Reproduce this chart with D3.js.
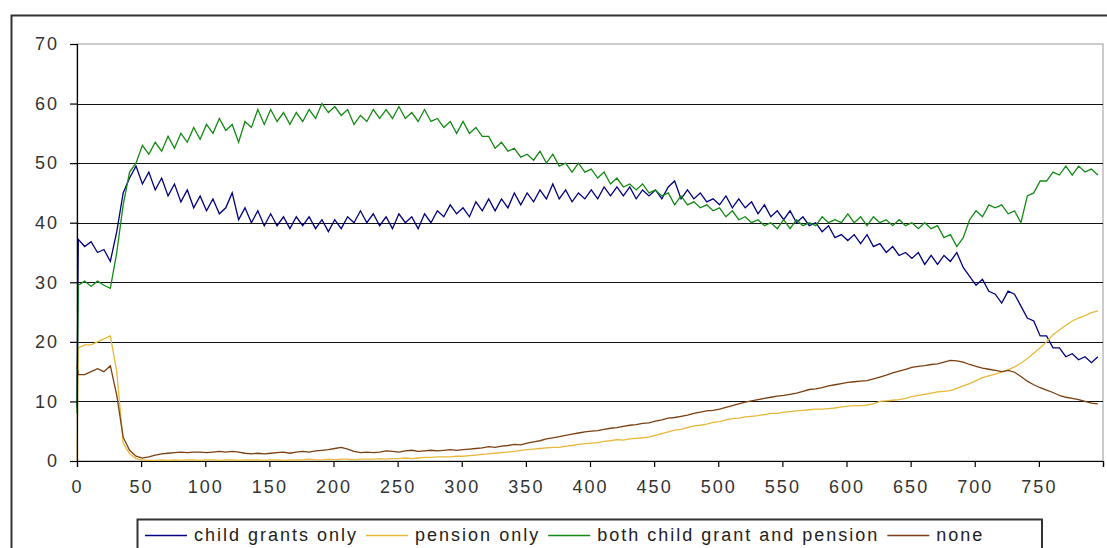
<!DOCTYPE html>
<html>
<head>
<meta charset="utf-8">
<script src="https://cdn.jsdelivr.net/npm/d3@7"></script>
<style>
  body { margin: 0; background: #fff; }
  svg { display: block; font-family: "Liberation Sans", Arial, sans-serif; }
</style>
</head>
<body>
<svg id="chart" width="1107" height="548"></svg>
<script>
// x positions: first point at 0, then every 5th category
const xs = [0, ...d3.range(1, 800, 5)];

const childGrantsOnly = [9,
  37.2, 36, 36.8, 35, 35.5, 33.5, 38.5, 45, 47.5, 49.5,
  46.5, 48.5, 45.5, 47.5, 44.5, 46.5, 43.5, 45.5, 42.5, 44.5,
  42, 44, 41.5, 42.5, 45, 40.5, 42.5, 40, 42, 39.5,
  41.5, 39.5, 41, 39, 41, 39.5, 41, 39, 40.5, 38.5,
  40.5, 39, 41, 40, 42, 40, 41.5, 39.5, 41, 39,
  41.5, 40, 41, 39, 41.5, 40, 42, 41, 43, 41.5,
  42.5, 41, 43.5, 42, 44, 42, 44, 42.5, 45, 43,
  45, 43.5, 45.5, 44, 46.5, 44, 45.5, 43.5, 45, 44,
  45.5, 44, 46, 44.5, 46, 44.5, 46, 44, 45.5, 44.5,
  45.5, 44, 46, 47, 44, 45.5, 44, 45, 43.5, 44,
  43, 44.5, 42.5, 44, 42.5, 43.5, 41.5, 43, 41, 42,
  40.5, 42, 40, 41, 39.5, 40, 38.5, 39.5, 37.5, 38,
  37, 38, 36.5, 38, 36, 36.5, 35, 36, 34.5, 35,
  34, 35, 33, 34.5, 33, 34.5, 33.5, 35, 32.5, 31,
  29.5, 30.5, 28.5, 28, 26.5, 28.5, 28, 26, 24, 23.5,
  21, 21, 19, 19, 17.5, 18, 17, 17.5, 16.5, 17.5];

const pensionOnly = [0,
  19, 19.5, 19.5, 20, 20.5, 21, 15, 3, 1.2, 0.4,
  0.2, 0.1, 0.1, 0.2, 0.1, 0.2, 0.1, 0.2, 0.2, 0.1,
  0.2, 0.2, 0.1, 0.2, 0.2, 0.1, 0.2, 0.2, 0.2, 0.1,
  0.2, 0.2, 0.1, 0.2, 0.2, 0.2, 0.3, 0.2, 0.2, 0.3,
  0.2, 0.3, 0.3, 0.2, 0.3, 0.3, 0.3, 0.4, 0.3, 0.4,
  0.4, 0.5, 0.4, 0.5, 0.6, 0.6, 0.7, 0.7, 0.7, 0.8,
  0.8, 0.9, 1.0, 1.1, 1.2, 1.3, 1.4, 1.5, 1.6, 1.8,
  1.9, 2.0, 2.1, 2.2, 2.3, 2.3, 2.5, 2.6, 2.8, 2.9,
  3.0, 3.1, 3.3, 3.4, 3.6, 3.5, 3.7, 3.8, 3.9, 4.0,
  4.3, 4.6, 4.9, 5.2, 5.3, 5.6, 5.9, 6.0, 6.2, 6.5,
  6.6, 6.9, 7.1, 7.2, 7.4, 7.5, 7.6, 7.8, 8.0, 8.0,
  8.2, 8.3, 8.4, 8.5, 8.6, 8.7, 8.7, 8.8, 8.9, 9.1,
  9.2, 9.3, 9.3, 9.4, 9.6, 10.0, 10.1, 10.2, 10.3, 10.5,
  10.8, 11.0, 11.2, 11.4, 11.6, 11.7, 11.8, 12.2, 12.6, 13.0,
  13.5, 14.0, 14.3, 14.6, 14.9, 15.3, 15.8, 16.4, 17.2, 18.1,
  19.0, 20.0, 21.2, 22.0, 22.8, 23.5, 24.0, 24.4, 24.9, 25.2];

const bothChildGrantAndPension = [8,
  29.5, 30.2, 29.3, 30.2, 29.5, 29, 35, 43, 48.5, 50,
  53, 51.5, 53.5, 52, 54.5, 52.5, 55, 53.5, 56, 54,
  56.5, 55, 57.5, 55.5, 56.5, 53.5, 57, 56, 59, 56.5,
  59, 57, 58.5, 56.5, 58.5, 57, 59, 57.5, 60, 58.5,
  59.5, 58, 59, 56.5, 58, 57, 59, 57.5, 59, 57.5,
  59.5, 57.5, 58.5, 57, 59, 57, 57.5, 56, 57, 55,
  57, 55, 56, 54.5, 54.5, 52.5, 53.5, 52, 52.5, 51,
  51.5, 50.5, 52, 50, 51.5, 49.5, 50, 48.5, 50, 48.5,
  49, 47.5, 48.5, 46.5, 47.5, 46, 46.5, 45.5, 46.5, 45,
  45.5, 44.5, 45, 43, 44.5, 43, 43.5, 42.5, 43, 42,
  42.5, 41, 42, 40.5, 41, 40, 40.5, 39.5, 40, 39,
  40.5, 39, 40.5, 39.5, 40, 39.5, 41, 40, 40.5, 40,
  41.5, 40, 41, 39.5, 41, 40, 40.5, 39.5, 40.5, 39.5,
  40, 39, 40, 39, 39.5, 37.5, 38, 36, 37.5, 40.5,
  42, 41, 43, 42.5, 43, 41.5, 42, 40, 44.5, 45,
  47, 47, 48.5, 48, 49.5, 48, 49.5, 48.5, 49, 48];

const none = [16,
  14.5, 14.5, 15, 15.5, 15, 16, 11, 4, 1.8, 0.8,
  0.5, 0.7, 1.0, 1.2, 1.3, 1.4, 1.5, 1.4, 1.5, 1.5,
  1.4, 1.5, 1.6, 1.5, 1.6, 1.5, 1.3, 1.2, 1.3, 1.2,
  1.3, 1.4, 1.5, 1.3, 1.5, 1.6, 1.5, 1.7, 1.8, 1.9,
  2.1, 2.3, 2.0, 1.6, 1.4, 1.5, 1.4, 1.5, 1.7, 1.6,
  1.5, 1.7, 1.8, 1.6, 1.7, 1.8, 1.7, 1.8, 1.9, 1.8,
  1.9, 2.0, 2.1, 2.2, 2.4, 2.3, 2.5, 2.6, 2.8, 2.7,
  3.0, 3.2, 3.4, 3.7, 3.9, 4.1, 4.3, 4.5, 4.7, 4.9,
  5.0, 5.1, 5.3, 5.5, 5.6, 5.8, 6.0, 6.1, 6.3, 6.4,
  6.7, 6.9, 7.2, 7.3, 7.5, 7.7, 8.0, 8.2, 8.4, 8.5,
  8.7, 9.0, 9.3, 9.6, 9.9, 10.1, 10.3, 10.5, 10.7, 10.9,
  11.0, 11.2, 11.4, 11.7, 12.0, 12.1, 12.3, 12.6, 12.8, 13.0,
  13.2, 13.3, 13.4, 13.5, 13.8, 14.1, 14.4, 14.8, 15.1, 15.4,
  15.7, 15.9, 16.0, 16.2, 16.3, 16.6, 16.9, 16.8, 16.6, 16.2,
  15.9, 15.6, 15.4, 15.2, 15.0, 15.2, 14.9, 14.2, 13.4, 12.8,
  12.3, 11.9, 11.5, 11.0, 10.7, 10.5, 10.3, 10.0, 9.7, 9.6];

const seriesNames = ["child grants only", "pension only", "both child grant and pension", "none"];
const seriesColors = ["#000080", "#e8b83a", "#138a13", "#7a3f12"];
const seriesValues = [childGrantsOnly, pensionOnly, bothChildGrantAndPension, none];

const yTicks = [0, 10, 20, 30, 40, 50, 60, 70];
const xTicks = d3.range(0, 801, 50);
const xTickLabels = xTicks.map(d => d < 800 ? String(d) : "");

const svg = d3.select("#chart");
const margin = { left: 77, right: 4, top: 44, bottom: 87 };
const W = 1107, H = 548;

svg.append("rect").attr("width", W).attr("height", H).attr("fill", "#fff");
// outer chart border (cropped at right/bottom)
svg.append("rect")
  .attr("x", 11.5).attr("y", 15.5)
  .attr("width", W).attr("height", H)
  .attr("fill", "none").attr("stroke", "#333").attr("stroke-width", 2);

const x = d3.scaleLinear().domain([0, 800]).range([margin.left, W - margin.right]);
const y = d3.scaleLinear().domain([0, 70]).range([H - margin.bottom, margin.top]);

// plot area frame
svg.append("rect")
  .attr("x", x(0)).attr("y", y(70))
  .attr("width", x(800) - x(0)).attr("height", y(0) - y(70))
  .attr("fill", "none").attr("stroke", "#999").attr("stroke-width", 1);

// gridlines
svg.append("g")
  .selectAll("line")
  .data(yTicks.filter(d => d > 0 && d < 70))
  .join("line")
  .attr("x1", x(0)).attr("x2", x(800))
  .attr("y1", d => Math.round(y(d)) + 0.5).attr("y2", d => Math.round(y(d)) + 0.5)
  .attr("stroke", "#111").attr("stroke-width", 1);

const line = d3.line().x((d, i) => x(xs[i])).y(d => y(d));

svg.append("g")
  .selectAll("path")
  .data(seriesValues)
  .join("path")
  .attr("d", d => line(d))
  .attr("fill", "none")
  .attr("stroke", (d, i) => seriesColors[i])
  .attr("stroke-width", 1.3);

// axes
const yAxis = svg.append("g")
  .attr("transform", `translate(${x(0)},0)`)
  .call(d3.axisLeft(y).tickValues(yTicks).tickSize(7).tickPadding(11).tickFormat(d3.format("d")));
const xAxis = svg.append("g")
  .attr("transform", `translate(0,${y(0)})`)
  .call(d3.axisBottom(x).tickValues(xTicks).tickSize(6).tickPadding(13).tickFormat((d, i) => xTickLabels[i]));

[yAxis, xAxis].forEach(a => {
  a.select(".domain").attr("stroke", "#000").attr("stroke-width", 1.2);
  a.selectAll(".tick line").attr("stroke", "#000").attr("stroke-width", 1.2);
  a.selectAll("text")
    .attr("fill", "#333")
    .style("font-size", "18px")
    .style("letter-spacing", "2px")
    .style("font-family", "'Liberation Sans', Arial, sans-serif");
});

// legend
const legend = svg.append("g");
legend.append("rect")
  .attr("x", 137.5).attr("y", 519.5)
  .attr("width", 1042 - 137.5).attr("height", 60)
  .attr("fill", "#fff").attr("stroke", "#333").attr("stroke-width", 2);

let lx = 145;
seriesNames.forEach((name, i) => {
  legend.append("line")
    .attr("x1", lx).attr("x2", lx + 42)
    .attr("y1", 535.5).attr("y2", 535.5)
    .attr("stroke", seriesColors[i]).attr("stroke-width", 1.3);
  const t = legend.append("text")
    .attr("x", lx + 49).attr("y", 541)
    .attr("fill", "#222")
    .style("font-size", "18px")
    .style("letter-spacing", "2px")
    .text(name);
  lx += 49 + t.node().getComputedTextLength() + 8;
});
</script>
</body>
</html>
